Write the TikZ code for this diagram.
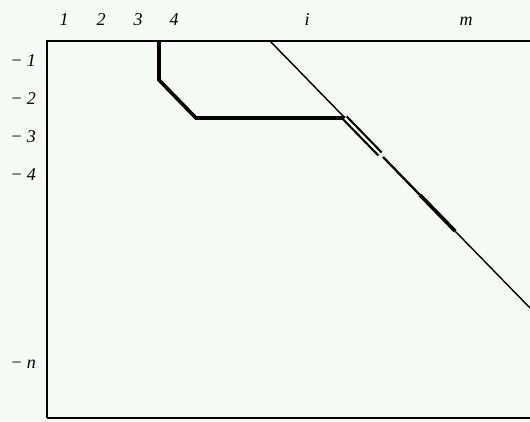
\documentclass[tikz,border=0pt]{standalone}
\usepackage{fontspec}
\setmainfont{Liberation Serif}
\usepackage{tikz}
\definecolor{paper}{HTML}{F6FAF6}
\tikzset{
    every picture/.style={line join=miter},
    collabel/.style={font=\fontsize{18}{19}\selectfont\itshape,
      inner sep=0pt,anchor=base},
    rowlabel/.style={font=\fontsize{18}{19}\selectfont\itshape,
      inner sep=0pt,anchor=base east},
    frameline/.style={draw=black,line width=2pt},
    thinline/.style={draw=black,line width=1.4pt},
    midline/.style={draw=black,line width=2.3pt},
    boldline/.style={draw=black,line width=3.6pt},
    twinline/.style={draw=black,line width=2.2pt,double=paper,double distance=2.2pt,
      line join=round}
}
\newcommand{\rowtag}[1]{\textup{−}\hspace{5pt}#1}

\begin{document}
\begin{tikzpicture}[x=1pt,y=-1pt]
  \fill[paper] (0,0) rectangle (530,421);
  \useasboundingbox (0,0) rectangle (530,421);
  % column and row labels
  \node[collabel] (c1) at (64,25) {1};
  \node[collabel] (c2) at (101,25) {2};
  \node[collabel] (c3) at (138,25) {3};
  \node[collabel] (c4) at (174,25) {4};
  \node[collabel] (ci) at (307,25) {i};
  \node[collabel] (cm) at (466,25) {m};
  \node[rowlabel] (r1) at (36,66) {\rowtag{1}};
  \node[rowlabel] (r2) at (36,104) {\rowtag{2}};
  \node[rowlabel] (r3) at (36,142) {\rowtag{3}};
  \node[rowlabel] (r4) at (36,180) {\rowtag{4}};
  \node[rowlabel] (rn) at (36,368) {\rowtag{n}};
  % frame
  \coordinate (tr) at (531,41);
  \coordinate (tl) at (47,41);
  \coordinate (bl) at (47,418);
  \coordinate (br) at (531,418);
  \draw[frameline] (tr) -- (tl) -- (bl);
  \draw[draw=black,line width=1.3pt] (bl) -- (br);
  % diagonal
  \coordinate (d0) at (270,41);
  \coordinate (d1) at (345,118);
  \coordinate (d2) at (380,154);
  \coordinate (d3) at (383,157);
  \coordinate (d4) at (420,195);
  \coordinate (d5) at (455,231);
  \coordinate (d6) at (531,309);
  \draw[thinline] (d0) -- (d1);
  \draw[thinline] (d5) -- (d6);
  % bold path
  \coordinate (p0) at (159,41);
  \coordinate (p1) at (159,80);
  \coordinate (p2) at (196,118);
  \draw[boldline] (p0) -- (p1) -- (p2) -- (d1);
  \draw[twinline] (d1) -- (d2);
  \draw[midline] (d3) -- (d4);
  \draw[boldline] (d4) -- (d5);
\end{tikzpicture}
\end{document}
